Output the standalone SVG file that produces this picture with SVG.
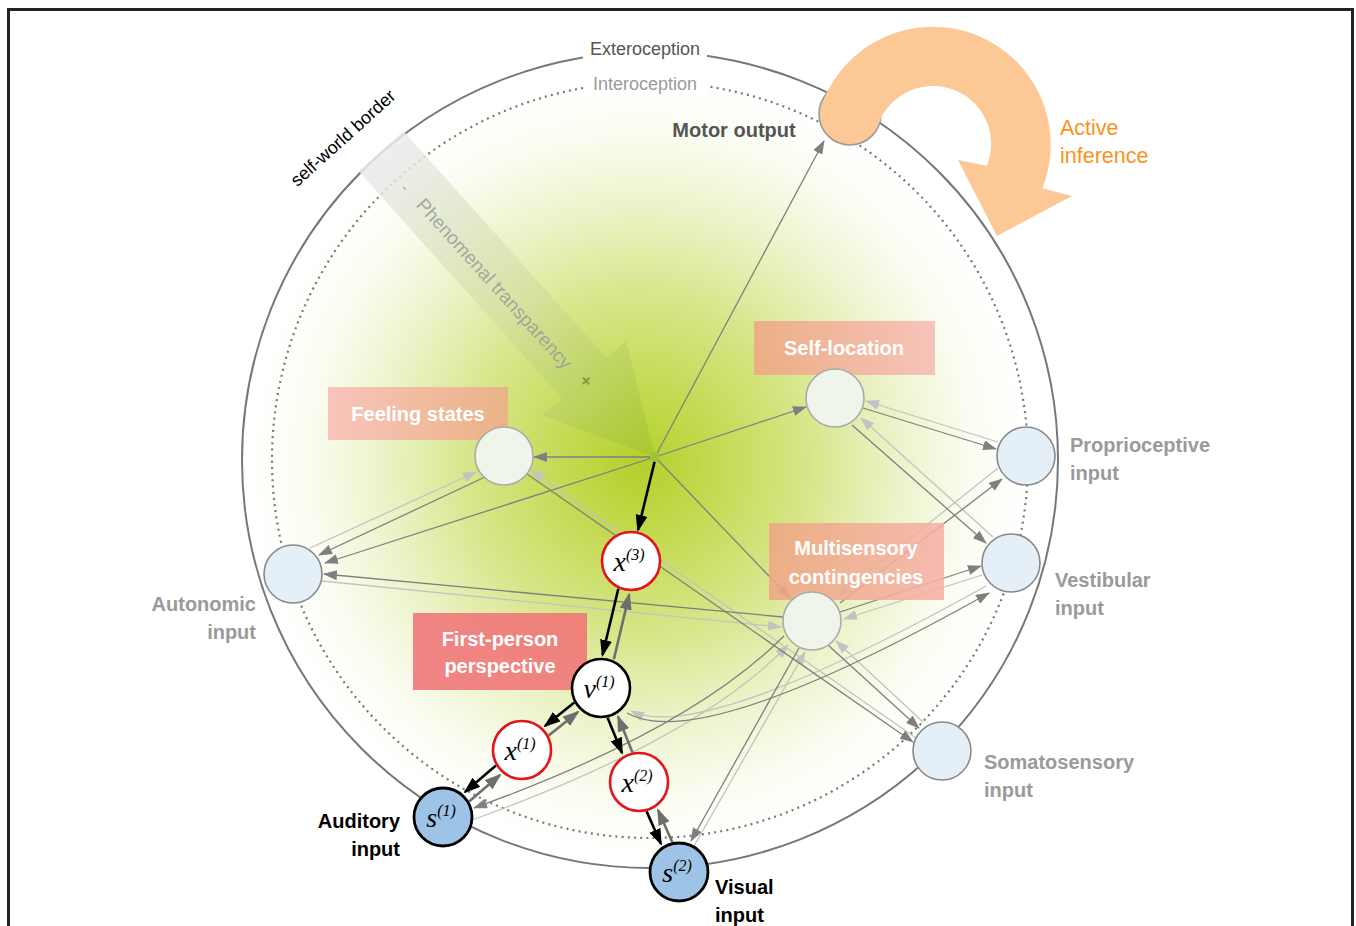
<svg xmlns="http://www.w3.org/2000/svg" width="1356" height="926" viewBox="0 0 1356 926">
<defs>
<radialGradient id="glow" gradientUnits="userSpaceOnUse" cx="640" cy="465" r="390">
<stop offset="0" stop-color="#b3d02c"/>
<stop offset="0.15" stop-color="#c0d848"/>
<stop offset="0.42" stop-color="#d6e586"/>
<stop offset="0.66" stop-color="#ecf3c9"/>
<stop offset="0.86" stop-color="#fbfdf3"/>
<stop offset="1" stop-color="#ffffff"/>
</radialGradient>
<linearGradient id="pt" gradientUnits="userSpaceOnUse" x1="381" y1="151" x2="655" y2="457">
<stop offset="0" stop-color="#e9ebef" stop-opacity="0.85"/>
<stop offset="0.5" stop-color="#d3dfa0" stop-opacity="0.7"/>
<stop offset="1" stop-color="#a6c62a" stop-opacity="0.85"/>
</linearGradient>
<linearGradient id="gFS" x1="0" y1="0" x2="1" y2="0">
<stop offset="0" stop-color="#f8bdb5"/><stop offset="1" stop-color="#eeac88"/>
</linearGradient>
<linearGradient id="gSL" x1="0" y1="0" x2="1" y2="0">
<stop offset="0" stop-color="#eea784"/><stop offset="1" stop-color="#f7bbb3"/>
</linearGradient>
<linearGradient id="gMS" x1="0" y1="0" x2="1" y2="0">
<stop offset="0" stop-color="#eea784"/><stop offset="1" stop-color="#f5b2a6"/>
</linearGradient>
<marker id="ad" markerUnits="userSpaceOnUse" markerWidth="14" markerHeight="10" refX="13" refY="5" orient="auto"><path d="M0,0 L14,5 L0,10 Z" fill="#7f7f7f"/></marker>
<marker id="al" markerUnits="userSpaceOnUse" markerWidth="14" markerHeight="10" refX="13" refY="5" orient="auto"><path d="M0,0 L14,5 L0,10 Z" fill="#c2c2c2"/></marker>
<marker id="ab" markerUnits="userSpaceOnUse" markerWidth="17" markerHeight="12" refX="15" refY="6" orient="auto"><path d="M0,0 L17,6 L0,12 Z" fill="#000"/></marker>
<marker id="ag" markerUnits="userSpaceOnUse" markerWidth="17" markerHeight="12" refX="15" refY="6" orient="auto"><path d="M0,0 L17,6 L0,12 Z" fill="#6e6e6e"/></marker>
<style>
.d{fill:none;stroke:#7f7f7f;stroke-width:1.3;marker-end:url(#ad)}
.l{fill:none;stroke:#c2c2c2;stroke-width:1.3;marker-end:url(#al)}
.b{fill:none;stroke:#000;stroke-width:2.6;marker-end:url(#ab)}
.g{fill:none;stroke:#6e6e6e;stroke-width:2.6;marker-end:url(#ag)}
.mid{fill:#eff5ea;stroke:#aaaaaa;stroke-width:1.6}
.inp{fill:#e5eff8;stroke:#888;stroke-width:1.6}
.red{fill:#fff;stroke:#e3141b;stroke-width:2.6}
.blk{fill:#fff;stroke:#000;stroke-width:2.6}
.sen{fill:#9dc3e6;stroke:#000;stroke-width:2.8}
.box{opacity:0.88}
.bt{font-family:"Liberation Sans",Arial,sans-serif;font-weight:bold;font-size:20px;fill:#fff;text-anchor:middle}
.il{font-family:"Liberation Sans",Arial,sans-serif;font-weight:bold;font-size:20px;fill:#9a9a9a}
.bl{font-family:"Liberation Sans",Arial,sans-serif;font-weight:bold;font-size:20px;fill:#000}
.nl{font-family:"Liberation Serif","Times New Roman",serif;font-style:italic;font-size:28px;fill:#000;text-anchor:middle}
.sup{font-size:16px}
</style>
</defs>
<rect x="8.5" y="9.5" width="1344" height="940" fill="#fff" stroke="#222" stroke-width="3"/>
<g id="background">
<circle cx="650" cy="460" r="407" fill="url(#glow)"/>
<circle cx="650" cy="460" r="408" fill="none" stroke="#777" stroke-width="2"/>
<circle cx="650" cy="460" r="378" fill="none" stroke="#777" stroke-width="2.2" stroke-dasharray="2 4.2"/>
<rect x="583" y="36" width="124" height="26" fill="#fff"/>
<rect x="586" y="71" width="121" height="26" fill="#fff"/>
<text x="645" y="55" font-family="Liberation Sans, Arial, sans-serif" font-size="18" fill="#555" text-anchor="middle">Exteroception</text>
<text x="645" y="90" font-family="Liberation Sans, Arial, sans-serif" font-size="18" fill="#9a9a9a" text-anchor="middle">Interoception</text>
<text transform="translate(343,138) rotate(-42)" x="0" y="6" font-family="Liberation Sans, Arial, sans-serif" font-size="18" fill="#000" text-anchor="middle">self-world border</text>
</g>
<g id="phenomenal-transparency">
<path d="M403.4,131 L606.8,358.2 L626.1,340.8 L655,457 L542.7,415.6 L562,398.2 L358.6,171 Z" fill="url(#pt)"/>
<text transform="translate(494,284) rotate(48)" x="0" y="6" font-family="Liberation Sans, Arial, sans-serif" font-size="19" fill="#9a9a9a" fill-opacity="0.85" text-anchor="middle">Phenomenal transparency</text>
<text transform="translate(405,188) rotate(48)" x="0" y="5" font-family="Liberation Sans, Arial, sans-serif" font-size="16" fill="#aaa" text-anchor="middle">-</text>
<text transform="translate(586,381) rotate(48)" x="0" y="6" font-family="Liberation Sans, Arial, sans-serif" font-size="18" font-weight="bold" fill="#8a9a45" text-anchor="middle">+</text>
</g>
<g id="connectors">
<path class="l" d="M310,548 L476,472"/>
<path class="l" d="M322,581 L781,627"/>
<path class="l" d="M916,738 L531,470"/>
<path class="l" d="M998,442 L866,401"/>
<path class="l" d="M993,537 L861,418"/>
<path class="l" d="M998,468 L837,597"/>
<path class="l" d="M982,575 L844,619"/>
<path class="l" d="M923,722 L836,641"/>
<path class="l" d="M694,846 L805,652"/>
<path class="l" d="M472,820 Q700,738 788,645"/>
<path class="l" d="M986,586 Q700,745 631,711"/>
<path class="d" d="M655,457 L534,457"/>
<path class="d" d="M655,457 L806,407"/>
<path class="d" d="M655,457 L325,563"/>
<path class="d" d="M655,457 L824,141"/>
<path class="d" d="M655,457 L790,598"/>
<path class="d" d="M485,477 L319,555"/>
<path class="d" d="M783,617 L324,574"/>
<path class="d" d="M527,474 L913,742"/>
<path class="d" d="M863,408 L996,449"/>
<path class="d" d="M852,425 L986,543"/>
<path class="d" d="M840,603 L1002,479"/>
<path class="d" d="M840,612 L981,566"/>
<path class="d" d="M828,645 L919,728"/>
<path class="d" d="M799,648 L691,841"/>
<path class="d" d="M784,636 Q690,730 474,808"/>
<path class="d" d="M627,713 Q700,755 989,593"/>
<path class="b" d="M655,460 L638,530"/>
<path class="b" d="M618.3,588.8 L602.5,655"/>
<path class="b" d="M574.3,702.6 L545,726"/>
<path class="b" d="M495.9,765.6 L465,792"/>
<path class="b" d="M607.6,717.7 L622,753"/>
<path class="b" d="M646.6,811.4 L661,844"/>
<path class="g" d="M613.9,659.2 L629.2,594.5"/>
<path class="g" d="M548.7,735.4 L578,712"/>
<path class="g" d="M469.1,801.4 L500,775"/>
<path class="g" d="M632.4,752.3 L618,716.5"/>
<path class="g" d="M672.3,842.2 L658,810"/>
</g>
<g id="hub"><circle cx="655" cy="457" r="5" fill="#9cc43a"/></g>
<g id="label-feeling-states">
<rect class="box" x="328" y="387" width="180" height="53" fill="url(#gFS)"/>
<text class="bt" x="418" y="421">Feeling states</text>
</g>
<g id="label-self-location">
<rect class="box" x="754" y="321" width="181" height="54" fill="url(#gSL)"/>
<text class="bt" x="844" y="355">Self-location</text>
</g>
<g id="label-multisensory">
<rect class="box" x="769" y="523" width="175" height="77" fill="url(#gMS)"/>
<text class="bt" x="856" y="555">Multisensory</text>
<text class="bt" x="856" y="584">contingencies</text>
</g>
<g id="label-first-person">
<rect class="box" x="413" y="613" width="174" height="77" fill="#f07478"/>
<text class="bt" x="500" y="646">First-person</text>
<text class="bt" x="500" y="673">perspective</text>
</g>
<g id="node-feeling"><circle class="mid" cx="504" cy="456" r="29"/></g>
<g id="node-self-location"><circle class="mid" cx="835" cy="398" r="29"/></g>
<g id="node-multisensory"><circle class="mid" cx="812" cy="621" r="29"/></g>
<g id="node-autonomic"><circle class="inp" cx="293" cy="574" r="29"/>
<text class="il" x="256" y="611" text-anchor="end">Autonomic</text>
<text class="il" x="256" y="639" text-anchor="end">input</text></g>
<g id="node-proprioceptive"><circle class="inp" cx="1026" cy="456" r="29"/>
<text class="il" x="1070" y="452">Proprioceptive</text>
<text class="il" x="1070" y="480">input</text></g>
<g id="node-vestibular"><circle class="inp" cx="1011" cy="563" r="29"/>
<text class="il" x="1055" y="587">Vestibular</text>
<text class="il" x="1055" y="615">input</text></g>
<g id="node-somatosensory"><circle class="inp" cx="942" cy="751" r="29"/>
<text class="il" x="984" y="769">Somatosensory</text>
<text class="il" x="984" y="797">input</text></g>
<g id="node-x3"><circle class="red" cx="631" cy="561" r="29"/>
<text class="nl" x="629" y="571">x<tspan class="sup" dy="-11">(3)</tspan></text></g>
<g id="node-v1"><circle class="blk" cx="601" cy="688" r="29"/>
<text class="nl" x="599" y="698">v<tspan class="sup" dy="-11">(1)</tspan></text></g>
<g id="node-x1"><circle class="red" cx="522" cy="750" r="29"/>
<text class="nl" x="520" y="760">x<tspan class="sup" dy="-11">(1)</tspan></text></g>
<g id="node-x2"><circle class="red" cx="639" cy="782" r="29"/>
<text class="nl" x="637" y="792">x<tspan class="sup" dy="-11">(2)</tspan></text></g>
<g id="node-s1"><circle class="sen" cx="443" cy="817" r="29"/>
<text class="nl" x="441" y="827">s<tspan class="sup" dy="-11">(1)</tspan></text>
<text class="bl" x="400" y="828" text-anchor="end">Auditory</text>
<text class="bl" x="400" y="856" text-anchor="end">input</text></g>
<g id="node-s2"><circle class="sen" cx="679" cy="872" r="29"/>
<text class="nl" x="677" y="882">s<tspan class="sup" dy="-11">(2)</tspan></text>
<text class="bl" x="715" y="894">Visual</text>
<text class="bl" x="715" y="922">input</text></g>
<g id="node-motor-output">
<circle cx="850" cy="114" r="31" fill="#fcc996" stroke="#9a9a9a" stroke-width="1.6"/>
<path d="M822.1,103.6 A118,118 0 1 1 1042.4,188.2 L1072,196 L997,236 L958,160 L986.8,165.7 A58,58 0 1 0 878.5,124.2 Z" fill="#fcc996"/>
<text x="734" y="137" font-family="Liberation Sans, Arial, sans-serif" font-size="20" font-weight="bold" fill="#555" text-anchor="middle">Motor output</text>
</g>
<g id="active-inference">
<text x="1060" y="135" font-family="Liberation Sans, Arial, sans-serif" font-size="21.5" fill="#f7931e">Active</text>
<text x="1060" y="163" font-family="Liberation Sans, Arial, sans-serif" font-size="21.5" fill="#f7931e">inference</text>
</g>
</svg>
